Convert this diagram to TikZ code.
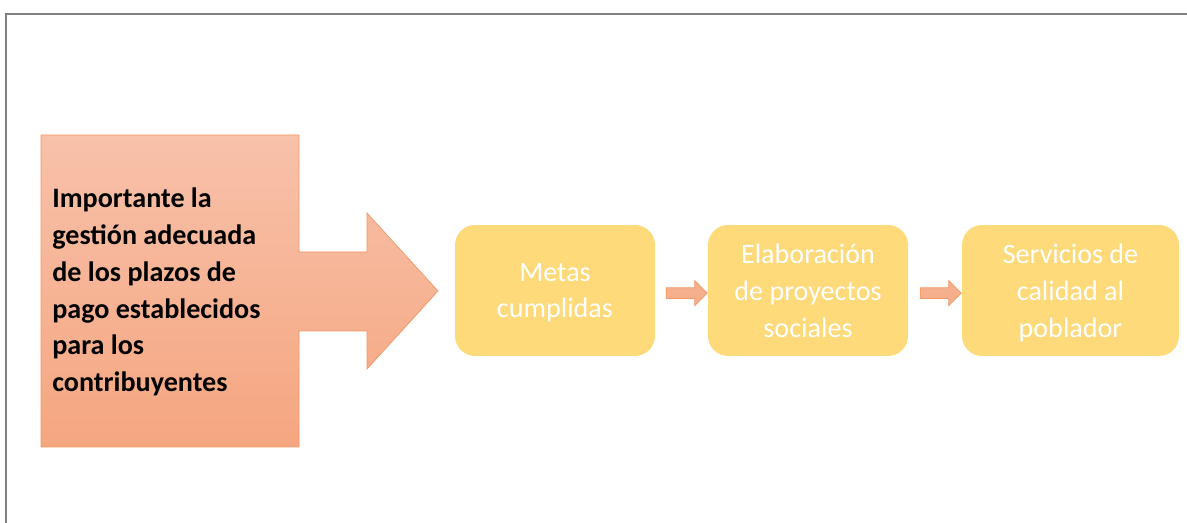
\documentclass[tikz,border=0pt]{standalone}
\usepackage{fontspec}
\setmainfont{Carlito}
\usetikzlibrary{shapes.arrows}
\definecolor{salmontop}{RGB}{248,193,170}
\definecolor{salmonbot}{RGB}{245,166,128}
\definecolor{salmonline}{RGB}{243,150,100}
\definecolor{goldbox}{RGB}{255,218,122}
\tikzset{
  stepbox/.style={rectangle, rounded corners=0.4cm, fill=goldbox, text=white, align=center,
    minimum width=4cm, minimum height=2.62cm, text depth=-1.5pt,
    font=\fontsize{16}{21}\selectfont},
  linkarrow/.style={single arrow, fill=salmonbot!90!white, draw=salmonline, thin,
    inner xsep=0pt, inner ysep=2.85pt, single arrow head extend=4pt,
    minimum height=23.3pt, anchor=tip, yshift=-1.5pt},
}
\begin{document}
\begin{tikzpicture}[x=0.02cm,y=-0.02cm]
\useasboundingbox (0,0) rectangle (1187,523);
\draw[gray, line width=1.2pt] (6,600) -- (6,14) -- (1250,14);
% big arrow box
\shade[top color=salmontop, bottom color=salmonbot, draw=salmonline, thin]
  (41,135) -- (299,135) -- (299,252) -- (367,252) -- (367,213) -- (438,291)
  -- (367,369) -- (367,331) -- (299,331) -- (299,447) -- (41,447) -- cycle;
\node[anchor=west, align=left, inner sep=0pt, font=\fontsize{16}{21}\selectfont\bfseries] (src) at (52,292)
  {Importante la\\gestión adecuada\\de los plazos de\\pago establecidos\\para los\\contribuyentes};
% steps
\node[stepbox] (b1) at (555,290.5) {Metas\\cumplidas};
\node[stepbox] (b2) at (808,290.5) {Elaboración\\de proyectos\\sociales};
\node[stepbox, minimum width=4.34cm] (b3) at (1070.5,290.5) {Servicios de\\calidad al\\poblador};
\node[linkarrow] (a1) at (b2.west) {};
\node[linkarrow] (a2) at (b3.west) {};
\end{tikzpicture}
\end{document}
